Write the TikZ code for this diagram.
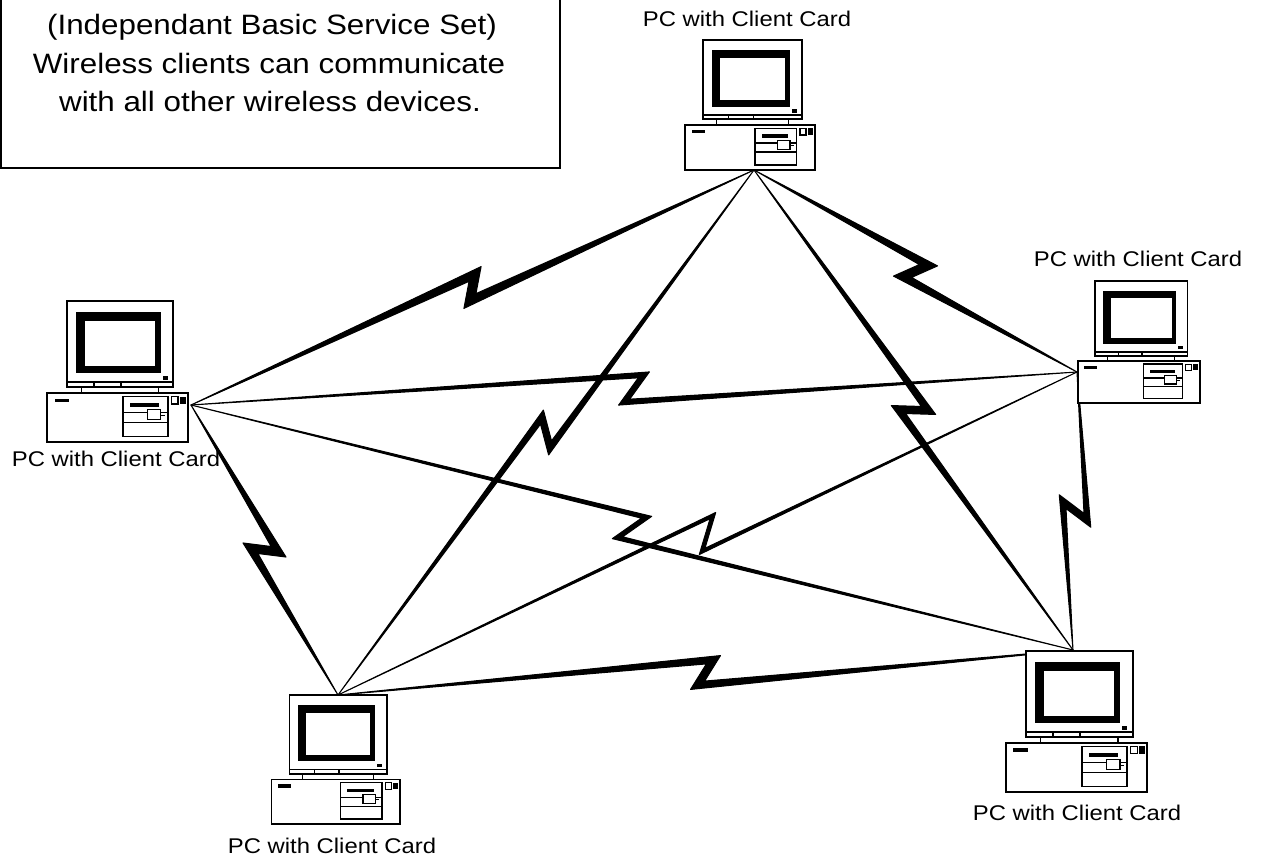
\documentclass[tikz,border=0pt]{standalone}
\usepackage{fontspec}
\setmainfont{Liberation Sans}[FakeStretch=1.12]
\usetikzlibrary{calc}

\tikzset{
  pcline/.style={draw=black, line width=1.8pt, fill=white},
  pcthin/.style={draw=black, line width=1.2pt},
  boltfill/.style={fill=black, draw=black, line width=1pt, line join=round},
  pclabel/.style={font=\fontsize{21.3}{25}\selectfont, anchor=base, inner sep=0pt},
  boxtext/.style={font=\fontsize{28}{34}\selectfont, anchor=base, inner sep=0pt},
  notebox/.style={draw=black, line width=2pt},
}

% Z-shaped lightning link between two hubs, tapering from the ends to the notch.
% #1, #2: hub coordinates; #3: width at the notch; #4: slant of the middle stroke
\newcommand\zbolt[4]{%
  \pgfmathsetmacro\zbA{-16+#4*(32-#3)}%
  \pgfmathsetmacro\zbB{-16+#3}%
  \pgfmathsetmacro\zbR{veclen(\zbA,\zbB)}%
  \pgfmathsetmacro\zbT{atan2(-\zbB,\zbA)}%
  \pgfmathsetmacro\zbU{\zbT+180}%
  \coordinate (zm) at ($(#1)!0.5!(#2)$);
  \filldraw[boltfill] (#1) -- ($(zm)!22.63pt!45:(#2)$) -- ($(zm)!\zbR pt!\zbU:(#2)$)
    -- (#2) -- ($(zm)!22.63pt!225:(#2)$) -- ($(zm)!\zbR pt!\zbT:(#2)$) -- cycle;
}

% Desktop computer: origin at the bottom centre of the system unit
\newcommand\pcicon[3]{%
  \begin{scope}[shift={(#1,#2)}, scale=#3]
    % monitor
    \draw[pcline] (-46.7,-130) rectangle (51.7,-55);
    \fill (-38.3,-120) rectangle (40,-63.3);
    \fill[white] (-30,-111.7) rectangle (35,-70);
    \fill (41.7,-60.5) rectangle (46.7,-57.3);
    \draw[pcline] (-46.7,-55) rectangle (51.7,-50.7);
    \draw[pcthin] (-21.7,-55) -- (-21.7,-50.7) (3.3,-55) -- (3.3,-50.7);
    \draw[pcthin] (-33.3,-50.7) -- (-33.3,-45) (38.3,-50.7) -- (38.3,-45);
    % system unit
    \draw[pcline] (-65,-45) rectangle (65,0);
    \fill (-58.3,-40) rectangle (-45,-36.7);
    \draw[pcline, line width=1.4pt] (5,-41.7) rectangle (46.7,-5);
    \fill (11.7,-35.7) rectangle (38.3,-32.3);
    \draw[pcthin] (5,-27) -- (46.7,-27) (5,-18) -- (46.7,-18);
    \draw[pcthin, fill=white] (27.5,-29.5) rectangle (40,-20.5);
    \draw[pcthin] (40,-24.5) -- (44,-24.5);
    \draw[pcthin] (50,-41.7) rectangle (56,-35);
    \fill (57.5,-41.7) rectangle (63.3,-35);
  \end{scope}}

\begin{document}
\begin{tikzpicture}[x=1pt, y=-1pt]
  \useasboundingbox (0,0) rectangle (1263,861);
  \fill[white] (0,0) rectangle (1263,861);

  % note box
  \draw[notebox] (1,-10) rectangle (560,168);
  \node[boxtext] (t1) at (272,35) {(Independant Basic Service Set)};
  \node[boxtext] (t2) at (269,73.5) {Wireless clients can communicate};
  \node[boxtext] (t3) at (270,111.5) {with all other wireless devices.};

  % connection points of the five computers
  \coordinate (hT) at (754,170);
  \coordinate (hL) at (191,405);
  \coordinate (hR) at (1077,372);
  \coordinate (hBR) at (1073,650);
  \coordinate (hB) at (338,695);

  % wireless links
  \zbolt{hT}{hL}{9}{0.66}
  \zbolt{hT}{hR}{8.5}{0.675}
  \zbolt{hL}{hB}{8.5}{0.675}
  \zbolt{hT}{hBR}{7.5}{0.71}
  \zbolt{hR}{hBR}{7}{0.73}
  \zbolt{hB}{hBR}{7.5}{0.71}
  \zbolt{hT}{hB}{6.5}{0.75}
  \zbolt{hL}{hR}{5.5}{0.78}
  \zbolt{hL}{hBR}{4.5}{0.82}
  \zbolt{hR}{hB}{3.5}{0.85}

  % computers
  \pcicon{750}{170}{1.0}
  \pcicon{117.5}{441.7}{1.08}
  \pcicon{1138.8}{403.3}{0.94}
  \pcicon{1076.5}{791.7}{1.085}
  \pcicon{335.8}{824}{0.99}

  % labels
  \node[pclabel] (lT) at (747,27) {PC with Client Card};
  \node[pclabel] (lR) at (1138,266.7) {PC with Client Card};
  \node[pclabel] (lL) at (116,466) {PC with Client Card};
  \node[pclabel] (lBR) at (1077,820) {PC with Client Card};
  \node[pclabel] (lB) at (332,853) {PC with Client Card};
\end{tikzpicture}
\end{document}
